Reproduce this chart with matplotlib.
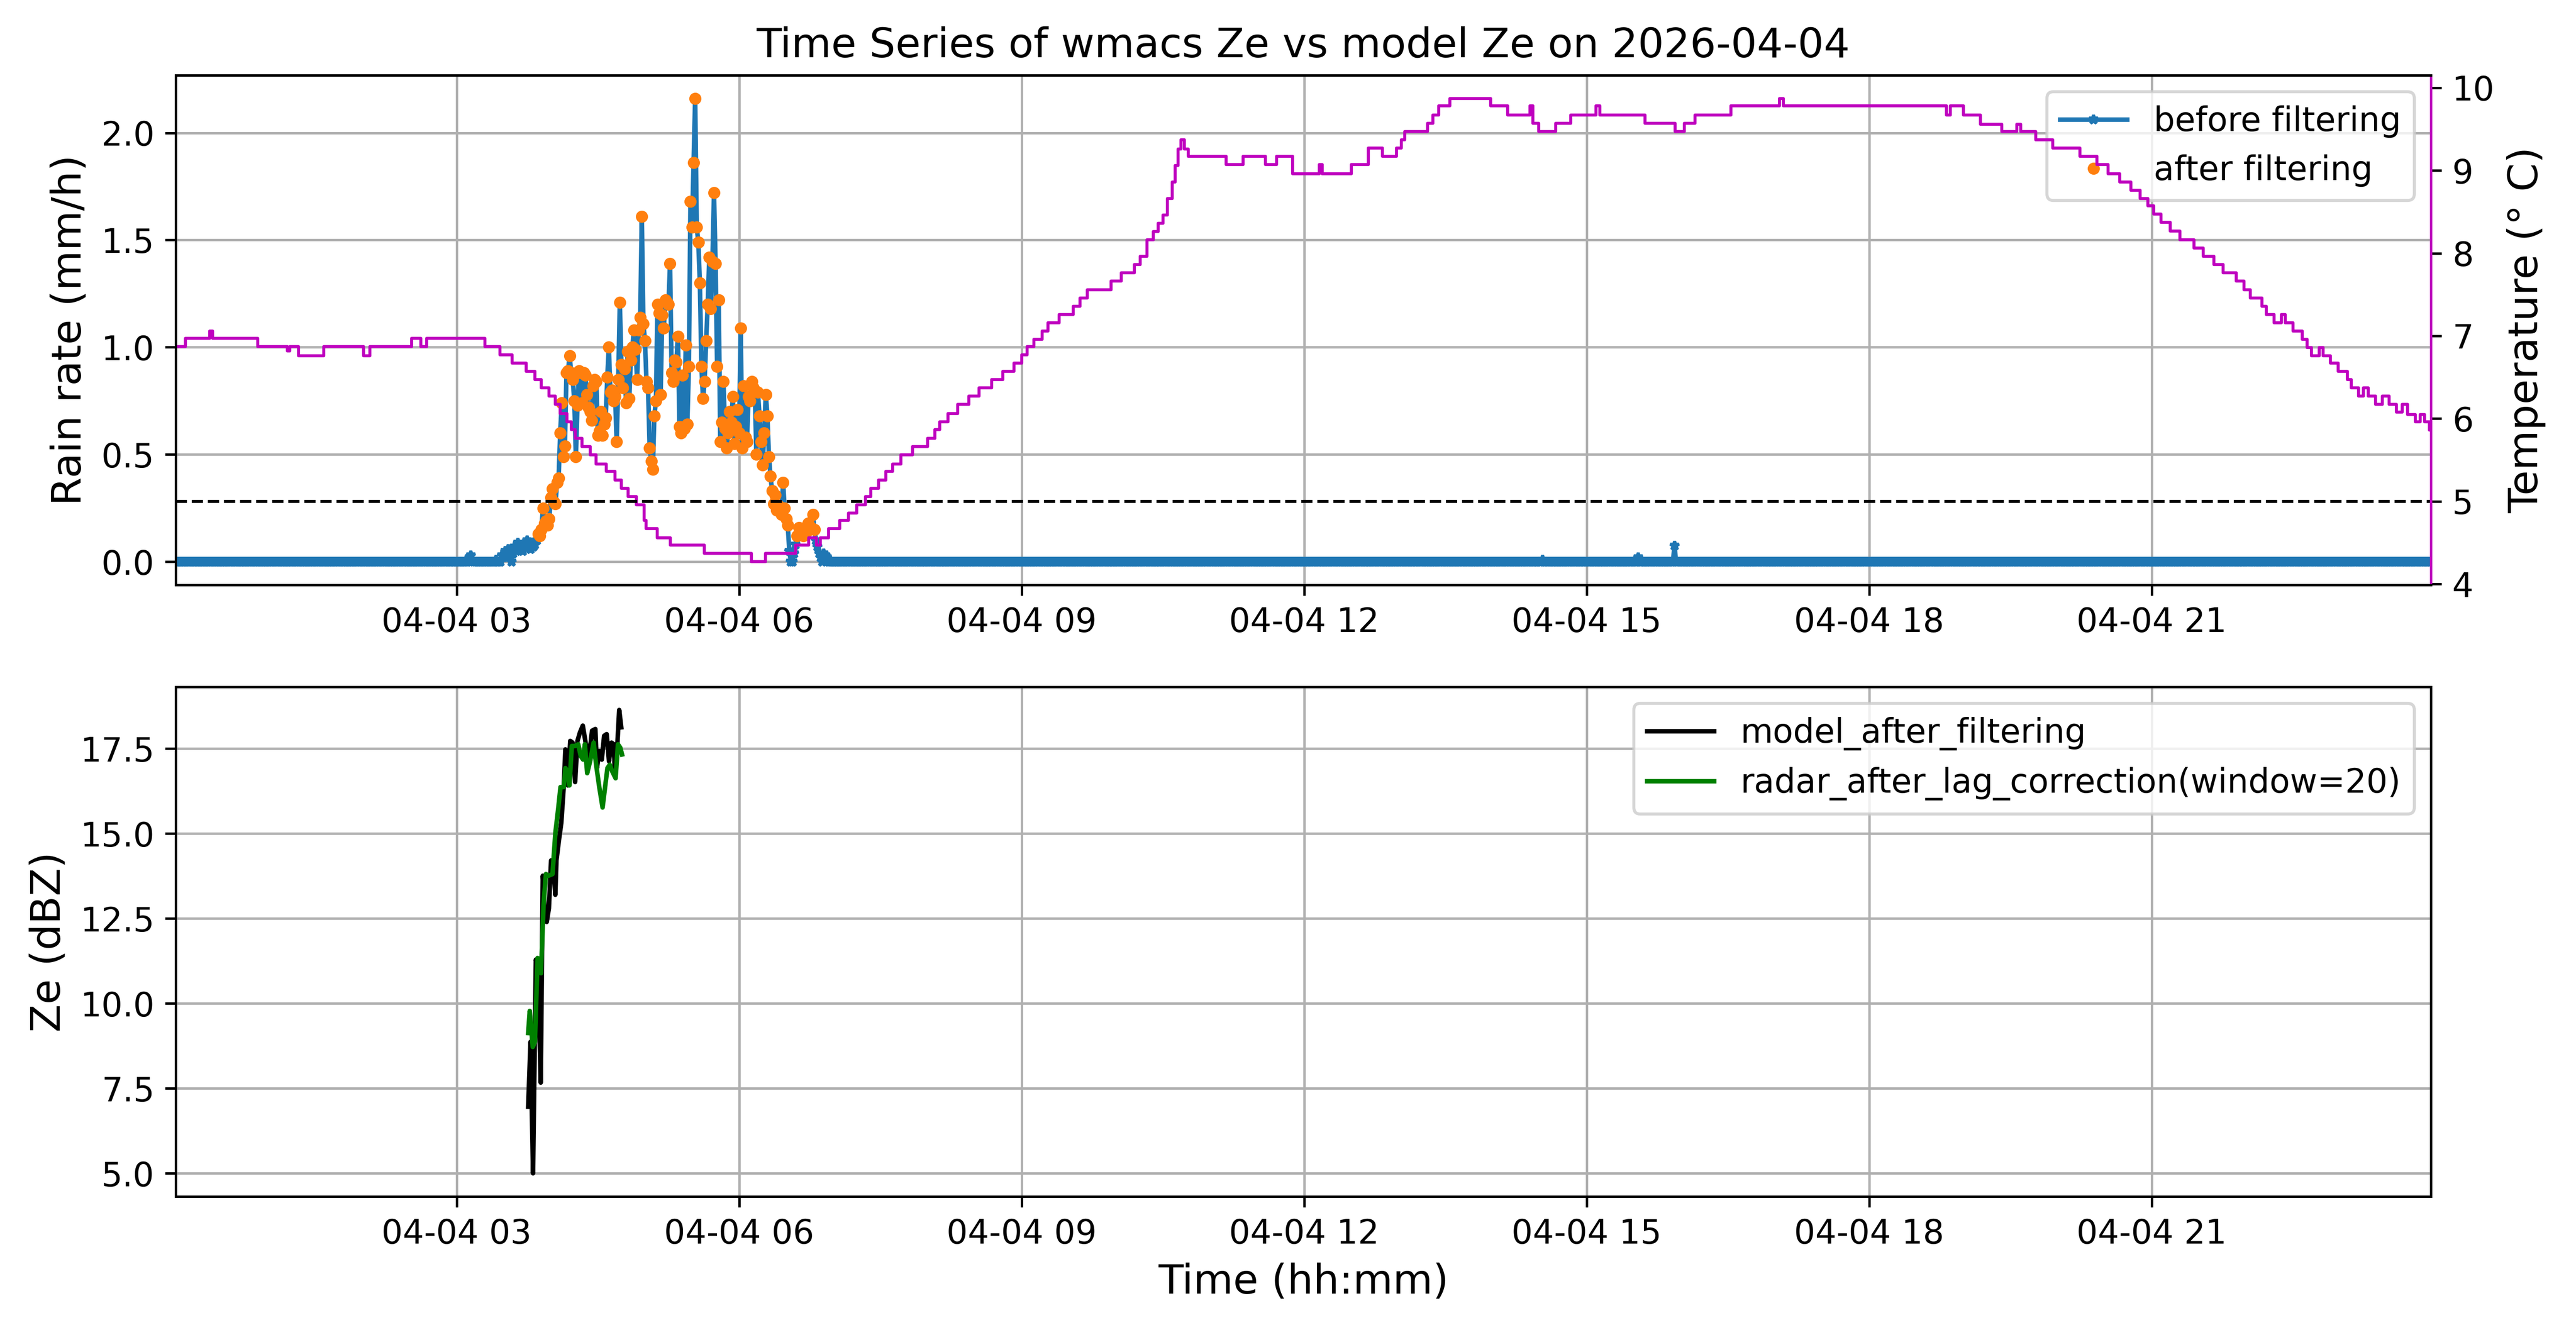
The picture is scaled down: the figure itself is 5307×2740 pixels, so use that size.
import numpy as np
import pandas as pd
import matplotlib
matplotlib.use('Agg')
import matplotlib.pyplot as plt

plt.rcParams['font.size'] = 11

day = pd.Timestamp('2026-04-04')

# rain gauge: one sample per minute, 00:01 .. 23:58 (minutes after midnight)
first_minute = 1
last_minute = 1438

# isolated small readings outside the main shower
drizzle_minutes = [188, 189, 190, 205, 209, 210, 211, 212, 213, 214, 216, 217,
                   218, 219, 220, 221, 222, 223, 224, 225, 226, 227, 228, 229,
                   230, 231, 872, 933, 956]
drizzle_rain = [0.02, 0.03, 0.01, 0.01, 0.03, 0.02, 0.05, 0.03, 0.06, 0.02, 0.04, 0.07,
                0.05, 0.09, 0.06, 0.08, 0.05, 0.09, 0.07, 0.10, 0.08, 0.06, 0.09, 0.07,
                0.08, 0.10, 0.01, 0.02, 0.075]

# main shower, consecutive minutes starting at 03:52
shower_start = 232
shower_rain = [
    0.13, 0.12, 0.15, 0.25, 0.18, 0.19, 0.17, 0.20, 0.30, 0.34,
    0.28, 0.27, 0.37, 0.39, 0.60, 0.74, 0.49, 0.54, 0.88, 0.89,
    0.96, 0.88, 0.85, 0.75, 0.49, 0.73, 0.89, 0.88, 0.74, 0.88,
    0.87, 0.78, 0.72, 0.70, 0.66, 0.82, 0.85, 0.84, 0.59, 0.61,
    0.70, 0.59, 0.64, 0.67, 0.86, 1.00, 0.79, 0.80, 0.75, 0.77,
    0.56, 0.85, 1.21, 0.92, 0.81, 0.90, 0.74, 0.98, 0.76, 0.94,
    1.00, 1.08, 0.99, 0.85, 1.08, 1.14, 1.61, 1.11, 1.03, 0.84,
    0.81, 0.53, 0.47, 0.43, 0.68, 0.75, 1.20, 1.16, 0.78, 1.15,
    1.09, 1.22, 1.21, 1.20, 1.39, 0.88, 0.84, 0.94, 0.93, 1.05,
    0.63, 0.60, 0.87, 0.62, 1.01, 0.64, 0.91, 1.68, 1.56, 1.86,
    2.16, 1.56, 1.49, 1.30, 0.91, 0.76, 0.84, 1.03, 1.20, 1.42,
    1.18, 1.40, 1.72, 1.39, 0.91, 1.22, 0.56, 0.65, 0.84, 0.62,
    0.53, 0.60, 0.70, 0.65, 0.77, 0.55, 0.63, 0.71, 0.60, 1.09,
    0.53, 0.82, 0.58, 0.56, 0.77, 0.75, 0.84, 0.81, 0.80, 0.50,
    0.79, 0.68, 0.56, 0.45, 0.60, 0.78, 0.68, 0.49, 0.40, 0.33,
    0.27, 0.31, 0.24, 0.26, 0.25, 0.22, 0.37, 0.25, 0.20, 0.17,
    0.05, 0.00, 0.00, 0.04, 0.08, 0.12, 0.16, 0.13, 0.14, 0.12,
    0.15, 0.14, 0.18, 0.15, 0.16, 0.22, 0.15, 0.10, 0.07, 0.04,
    0.02, 0.00, 0.04, 0.03, 0.02,
]
filter_threshold = 0.11

# temperature: value changes (hours after midnight, deg C)
temp_hours = [
    0.02, 0.12, 0.38, 0.41, 0.89, 1.20, 1.23, 1.32, 1.59, 2.01, 2.08, 2.52,
    2.62, 2.68, 3.30, 3.46, 3.59, 3.74, 3.83, 3.90, 3.98, 4.05, 4.10, 4.17,
    4.22, 4.26, 4.33, 4.42, 4.48, 4.59, 4.68, 4.75, 4.82, 4.91, 4.99, 5.01,
    5.13, 5.27, 5.63, 6.13, 6.28, 6.60, 6.74, 6.82, 6.86, 6.95, 7.07, 7.16,
    7.25, 7.34, 7.40, 7.48, 7.56, 7.63, 7.72, 7.84, 8.00, 8.08, 8.13, 8.22,
    8.32, 8.44, 8.55, 8.68, 8.80, 8.92, 9.00, 9.06, 9.13, 9.22, 9.28, 9.40,
    9.55, 9.62, 9.70, 9.95, 10.06, 10.20, 10.26, 10.33, 10.40, 10.45, 10.50, 10.55,
    10.60, 10.63, 10.66, 10.69, 10.73, 10.77, 11.17, 11.35, 11.59, 11.71, 11.88, 12.16,
    12.19, 12.50, 12.68, 12.83, 12.98, 13.03, 13.07, 13.31, 13.37, 13.43, 13.55, 13.98,
    14.16, 14.40, 14.43, 14.49, 14.67, 14.83, 15.10, 15.14, 15.62, 15.94, 16.04, 16.15,
    16.53, 17.05, 17.09, 18.82, 18.86, 19.00, 19.18, 19.41, 19.57, 19.61, 19.77, 19.95,
    20.24, 20.42, 20.54, 20.66, 20.78, 20.88, 20.96, 21.02, 21.10, 21.20, 21.30, 21.45,
    21.55, 21.66, 21.76, 21.90, 21.98, 22.05, 22.17, 22.22, 22.30, 22.38, 22.42, 22.50,
    22.60, 22.65, 22.70, 22.78, 22.82, 22.90, 22.98, 23.08, 23.12, 23.20, 23.25, 23.30,
    23.38, 23.45, 23.52, 23.60, 23.66, 23.72, 23.80, 23.85, 23.90, 23.95, 23.97,
]
temp_vals = [
    6.87, 6.97, 7.06, 6.97, 6.87, 6.82, 6.87, 6.76, 6.87, 6.76, 6.87, 6.97,
    6.87, 6.97, 6.87, 6.77, 6.67, 6.57, 6.47, 6.37, 6.27, 6.17, 6.06, 5.96,
    5.87, 5.76, 5.66, 5.56, 5.45, 5.36, 5.26, 5.16, 5.06, 4.96, 4.77, 4.67,
    4.56, 4.47, 4.37, 4.27, 4.37, 4.47, 4.56, 4.47, 4.56, 4.67, 4.77, 4.86,
    4.96, 5.06, 5.16, 5.26, 5.36, 5.45, 5.56, 5.66, 5.76, 5.87, 5.96, 6.06,
    6.17, 6.27, 6.37, 6.47, 6.57, 6.67, 6.77, 6.87, 6.96, 7.06, 7.16, 7.26,
    7.36, 7.46, 7.56, 7.66, 7.76, 7.86, 7.96, 8.16, 8.26, 8.36, 8.46, 8.66,
    8.86, 9.06, 9.26, 9.37, 9.26, 9.17, 9.07, 9.17, 9.07, 9.17, 8.96, 9.07,
    8.96, 9.07, 9.27, 9.17, 9.27, 9.37, 9.47, 9.57, 9.67, 9.78, 9.87, 9.78,
    9.67, 9.78, 9.57, 9.47, 9.57, 9.67, 9.78, 9.67, 9.57, 9.47, 9.57, 9.67,
    9.78, 9.87, 9.78, 9.67, 9.78, 9.67, 9.56, 9.47, 9.56, 9.47, 9.37, 9.27,
    9.17, 9.07, 8.96, 8.86, 8.76, 8.66, 8.57, 8.47, 8.37, 8.27, 8.16, 8.06,
    7.96, 7.86, 7.76, 7.66, 7.56, 7.46, 7.36, 7.26, 7.16, 7.26, 7.16, 7.06,
    6.96, 6.86, 6.76, 6.86, 6.76, 6.67, 6.57, 6.47, 6.37, 6.27, 6.37, 6.27,
    6.17, 6.27, 6.17, 6.08, 6.17, 6.05, 5.96, 6.05, 5.96, 5.86, 5.86,
]
temp_ref = 5.0

# reflectivity (minutes after midnight, dBZ)
model_minutes = [225.6, 227.1, 228.7, 230.5, 231.8, 233.6, 234.9, 236.1, 237.4, 238.8,
                 240.2, 241.6, 242.9, 243.6, 245.2, 246.7, 248.3, 249.3, 250.8, 252.4,
                 253.9, 255.5, 257.0, 258.6, 260.4, 262.2, 264.2, 266.3, 268.4, 269.4,
                 270.9, 272.5, 274.0, 275.6, 277.1, 278.7, 280.2, 280.7, 282.3, 283.6,
                 284.9]
model_ze = [6.96, 8.87, 5.00, 11.29, 11.09, 7.67, 13.76, 12.80, 12.40, 12.80,
            14.21, 14.16, 13.20, 14.21, 14.81, 15.32, 16.42, 17.48, 16.42, 17.73,
            17.68, 16.52, 17.73, 17.98, 18.18, 17.68, 17.18, 18.03, 18.08, 16.93,
            17.43, 17.18, 17.88, 17.93, 17.13, 17.68, 17.63, 16.93, 17.53, 18.64,
            18.13]
radar_minutes = [225.6, 226.6, 228.5, 229.9, 231.6, 233.8, 235.4, 236.9, 238.5, 241.1,
                 242.9, 244.7, 246.2, 248.3, 249.3, 250.8, 251.9, 253.4, 255.5, 257.5,
                 259.1, 260.6, 261.7, 263.2, 265.3, 267.3, 268.9, 270.9, 273.0, 274.6,
                 276.1, 277.6, 279.2, 281.3, 282.8, 284.3, 285.4]
radar_ze = [9.13, 9.78, 8.72, 8.87, 11.34, 10.89, 12.90, 13.81, 13.76, 13.81,
            15.01, 15.72, 16.37, 16.37, 16.93, 16.83, 16.42, 17.58, 17.58, 17.63,
            17.28, 17.18, 17.63, 16.78, 17.18, 17.68, 17.03, 16.37, 15.77, 16.37,
            16.93, 17.03, 16.83, 16.63, 17.63, 17.53, 17.33]

# build the per-minute rain series
minutes = np.arange(first_minute, last_minute + 1)
rain = np.zeros(len(minutes))
rain[np.array(drizzle_minutes) - first_minute] = drizzle_rain
idx = shower_start - first_minute
rain[idx:idx + len(shower_rain)] = shower_rain

t_rain = day + pd.to_timedelta(minutes, unit='min')
keep = rain >= filter_threshold
t_temp = day + pd.to_timedelta(temp_hours, unit='h')
t_model = day + pd.to_timedelta(model_minutes, unit='min')
t_radar = day + pd.to_timedelta(radar_minutes, unit='min')
x_lo = day + pd.Timedelta(minutes=first_minute)
x_hi = day + pd.Timedelta(minutes=last_minute)

label_size = 13.5

fig, (ax1, ax3) = plt.subplots(2, 1, figsize=(5307 / 450, 2740 / 450), dpi=450)
fig.subplots_adjust(left=0.0682, right=0.9437, top=0.9434, bottom=0.1004, hspace=0.2)

# top: rain rate + temperature
ax1.plot(t_rain, rain, '*-', color='C0', markersize=3, label='before filtering')
ax1.plot(t_rain[keep], rain[keep], '.', color='C1', label='after filtering')
ax1.set_ylabel('Rain rate (mm/h)', fontsize=label_size)
ax1.set_title('Time Series of wmacs Ze vs model Ze on 2026-04-04', fontsize=label_size)
ax1.grid(True)
ax1.legend(loc='upper right')
ax1.set_xlim(x_lo, x_hi)

ax2 = ax1.twinx()
ax2.plot(t_temp, temp_vals, color='m', lw=1.0, drawstyle='steps-post')
ax2.axhline(temp_ref, color='k', ls='--', lw=1)
ax2.set_ylabel('Temperature (° C)', fontsize=label_size)
ax2.spines['right'].set_color('m')
ax2.set_xlim(x_lo, x_hi)

# bottom: reflectivity
ax3.plot(t_model, model_ze, color='k', label='model_after_filtering')
ax3.plot(t_radar, radar_ze, color='green', label='radar_after_lag_correction(window=20)')
ax3.set_ylabel('Ze (dBZ)', fontsize=label_size)
ax3.set_xlabel('Time (hh:mm)', fontsize=label_size)
ax3.grid(True)
ax3.legend(loc='upper right')
ax3.set_xlim(x_lo, x_hi)

fig.savefig('out.png', dpi=450)
